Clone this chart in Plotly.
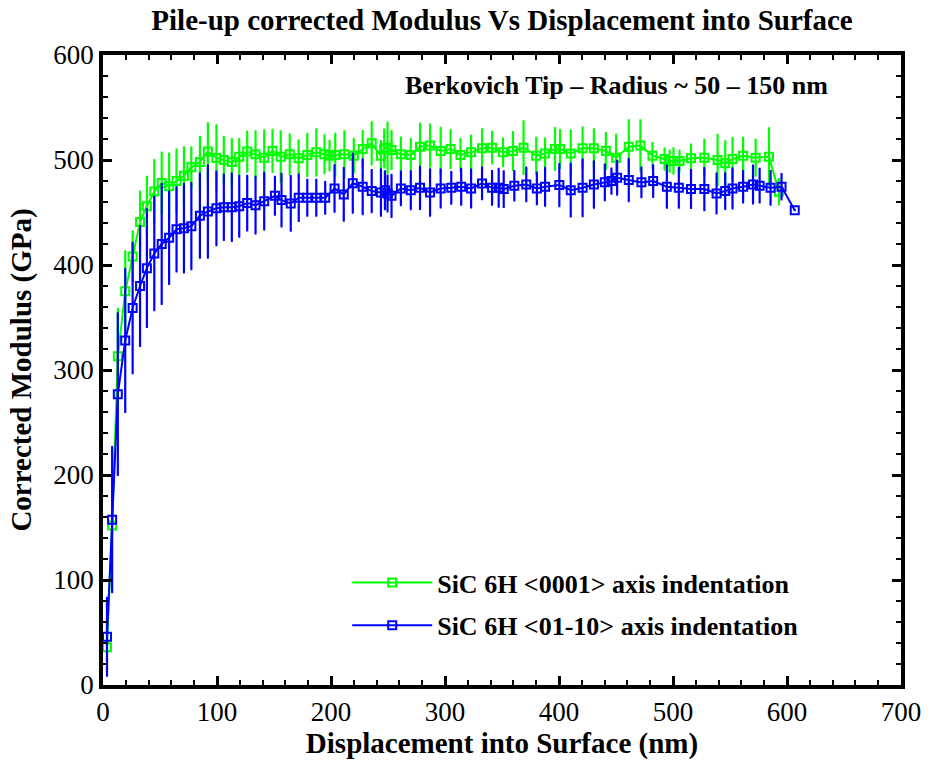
import plotly.graph_objects as go

# ---------------- data ----------------
green_x = [3.5, 8, 13, 19.5, 26, 32.5, 38.5, 45, 51.5, 58, 64.5, 71, 77.5, 85, 92, 99.5, 106, 113, 119.5, 126.5,
           133.8, 141.4, 148.7, 155.9, 163.8, 171.6, 179.2, 187.1, 194.3, 198.7, 203.7, 211.8, 220, 227.8, 235.7,
           243.8, 246.7, 249.6, 253.1, 261.3, 270, 278.1, 286.9, 296.2, 304.9, 313.6, 322.9, 332.5, 341.3, 350.9,
           359.6, 368.9, 380, 387.8,
           396.5, 400.9, 410.3, 420.7, 430.6, 441.1, 450.1, 461.2, 471.4, 482, 492.6, 497, 500.4, 505.7, 515.8,
           527.5, 539.1, 545.8, 552.2, 561.5, 572.5, 584.2, 592.9]
green_y = [36, 152, 313, 375, 408, 441, 456, 470, 478, 475, 480, 485, 493, 498, 508, 502, 500, 498, 503, 508,
           505.4, 502.2, 508.6, 503.2, 505.4, 501.6, 504.8, 507.3, 505.4, 504.1, 504.8, 505.4, 504.1, 510.5, 515.9,
           504.1, 511, 511.7, 509.5, 505.4, 504.8, 512.7, 513.7, 508.6, 510.5, 504.8, 507.3, 511.1, 511.7, 507.3,
           508.6, 511.7, 504.1, 506.3,
           510.5, 510.5, 506.3, 511.1, 511.1, 508.6, 502.2, 512.7, 513.7, 504.1, 500.9, 499, 499, 499, 501.6,
           502.2, 500, 496.8, 500.9, 504.1, 502.2, 503.2, 469.7]
green_err = [6, 8, 45, 38, 24, 29, 28, 30, 29, 31, 30, 27, 19, 24, 27, 31, 22, 22, 17, 19,
             22, 26, 20, 24, 19, 17, 20, 22, 18, 14, 20, 22, 16, 17, 20,
             14, 18, 24, 18, 16, 15, 22, 20, 22, 18, 15, 16, 18, 15, 13,
             18, 25, 17, 14,
             20, 18, 22, 20, 18, 17, 22, 25, 24, 12, 10, 10, 12, 10, 13,
             17, 24, 21, 20, 17, 17, 27, 12]

blue_x = [3.5, 8, 13, 19.5, 26, 32.5, 38.5, 45, 51.5, 58, 64.5, 71, 77.5, 85, 92, 99.5, 106, 113, 119.5, 126.5,
          133.8, 141.4, 150.8, 156.6, 164.7, 171.7, 179.2, 187.1, 194.9, 203.1, 211.2, 219.1, 227.8, 235.7, 243.8,
          247.3, 249.6, 253.1, 261.3, 270, 278.1, 286.9, 296.2, 305.5, 314.2, 322.9, 332.5, 341.3, 347.1, 351.5,
          360.8, 371.3, 380.6, 387.8,
          400.3, 410.3, 420.7, 430.6, 440.2, 446, 451, 461.2, 472.3, 482.6, 494.6, 505.1, 515.8, 527.5, 538.2,
          545.8, 552.2, 561.5, 570.2, 576, 585.6, 595.2, 606.8]
blue_y = [46, 157.5, 277, 328, 359, 380, 397, 411, 420, 426, 434, 435, 437, 447, 451, 454, 455, 455, 456, 459,
          457.0, 460.8, 465.9, 461.8, 458.6, 464.0, 464.0, 464.0, 464.0, 472.9, 467.2, 477.9, 474.5, 470.4, 469.1,
          471.3, 468.1, 465.9, 472.9, 471.3, 473.5, 469.1, 472.9, 473.5, 474.5, 472.9, 477.7, 473.5, 473.5, 472.3,
          475.5, 476.7, 472.9, 474.5,
          476.1, 471.3, 473.5, 476.7, 478.7, 479.9, 483.1, 480.9, 478.7, 479.9, 474.5, 473.5, 472.3, 472.3, 468.1,
          470.4, 472.9, 474.5, 476.7, 475.5, 473.5, 474.5, 452.2]
blue_err = [37, 69, 77, 68, 62, 57, 56, 54, 57, 44, 40, 42, 41, 40, 44, 35, 31, 32, 29, 26,
            27, 27, 18, 25, 26, 22, 17, 17, 15, 22, 25, 28, 26, 20, 22,
            18, 17, 20, 16, 18, 20, 22, 18, 15, 17, 18, 15, 16, 18, 17,
            14, 16, 15, 18,
            20, 25, 27, 22, 17, 12, 16, 20, 14, 15, 20, 19, 18, 20, 19,
            17, 19, 15, 18, 16, 16, 12, 0]

green_name = "SiC 6H &lt;0001&gt; axis indentation"
blue_name = "SiC 6H &lt;01-10&gt; axis indentation"

FONT = "Liberation Serif, Times New Roman, serif"
GREEN = "#00FF00"
BLUE = "#0000FF"

fig = go.Figure()
for xs, ys, es, col, nm, grp in [(green_x, green_y, green_err, GREEN, green_name, "g"),
                                 (blue_x, blue_y, blue_err, BLUE, blue_name, "b")]:
    fig.add_trace(go.Scatter(
        x=xs, y=ys, mode="lines+markers", name=nm, legendgroup=grp,
        line=dict(color=col, width=2),
        marker=dict(symbol="square-open", size=8, color=col, line=dict(width=2, color=col)),
        error_y=dict(type="data", array=es, color=col, thickness=2.2, width=1, visible=True),
    ))

axis_common = dict(
    showline=True, linewidth=3.5, linecolor="black", mirror="allticks",
    ticks="inside", ticklen=9, tickwidth=2.5, tickcolor="black",
    showgrid=False, zeroline=False,
    tickfont=dict(family=FONT, size=27, color="black"),
    minor=dict(ticks="inside", ticklen=5, tickwidth=2, tickcolor="black", dtick=20),
)

fig.update_xaxes(range=[0, 700], dtick=100, tick0=0, ticklabelstandoff=0,
                 title=dict(text="Displacement into Surface (nm)", standoff=2,
                            font=dict(family=FONT, size=29, color="black", weight="bold")),
                 **axis_common)
fig.update_yaxes(range=[0, 600], dtick=100, tick0=0,
                 title=dict(text="Corrected Modulus (GPa)", standoff=14,
                            font=dict(family=FONT, size=29, color="black", weight="bold")),
                 **axis_common)

fig.update_layout(
    width=933, height=766,
    margin=dict(l=103, r=27, t=55, b=81),
    paper_bgcolor="white", plot_bgcolor="white",
    title=dict(text="Pile-up corrected Modulus Vs Displacement into Surface",
               x=0.5, xref="paper", xanchor="center", y=0.974, yanchor="middle",
               font=dict(family=FONT, size=29, color="black", weight="bold")),
    legend=dict(x=0.306, y=0.20, xanchor="left", yanchor="top",
                font=dict(family=FONT, size=26, color="black", weight="bold"),
                bgcolor="rgba(0,0,0,0)", itemwidth=80, tracegroupgap=6),
    annotations=[dict(text="Berkovich Tip – Radius ~ 50 – 150 nm", xref="paper", yref="paper",
                      x=0.643, y=0.951, xanchor="center", yanchor="middle", showarrow=False,
                      font=dict(family=FONT, size=26, color="black", weight="bold"))],
)

fig.write_html("out.html")
